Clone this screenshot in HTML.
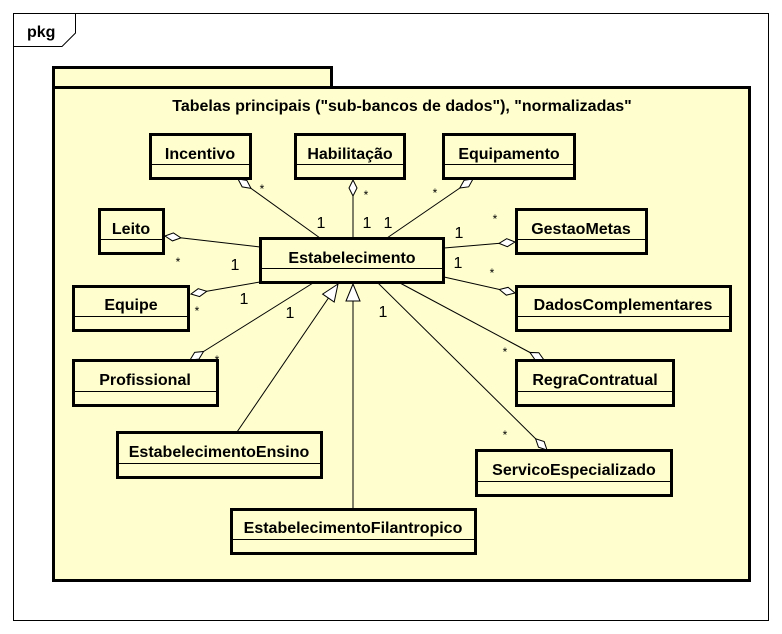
<!DOCTYPE html>
<html><head><meta charset="utf-8"><style>
html,body{margin:0;padding:0;background:#fff;}
svg{display:block;}
text{font-family:"Liberation Sans",sans-serif;}
.c{font-weight:bold;font-size:16px;text-anchor:middle;}
.m{font-size:16px;text-anchor:middle;}
.s{font-size:12px;text-anchor:middle;}
</style></head><body>
<svg width="782" height="634" viewBox="0 0 782 634" xmlns="http://www.w3.org/2000/svg">
<defs>
<marker id="dia" markerUnits="userSpaceOnUse" markerWidth="20" markerHeight="12" refX="0" refY="6" orient="auto" overflow="visible">
<path d="M0,6 L8,2 L16,6 L8,10 Z" fill="#fff" stroke="#000" stroke-width="1"/>
</marker>
<marker id="tri" markerUnits="userSpaceOnUse" markerWidth="20" markerHeight="16" refX="18" refY="8" orient="auto" overflow="visible">
<path d="M18,8 L1,1 L1,15 Z" fill="#fff" stroke="#000" stroke-width="1"/>
</marker>
</defs>
<rect x="13.5" y="13.5" width="755" height="607" fill="#fff" stroke="#000" stroke-width="1"/>
<path d="M13.5,46.5 L62,46.5 L75.5,33 L75.5,13.5" fill="none" stroke="#000"/>
<text x="27" y="37" style="font-weight:bold;font-size:16px">pkg</text>

<rect x="53.5" y="67.5" width="278" height="20" fill="#FEFECE" stroke="#000" stroke-width="3"/>
<rect x="53.5" y="87.5" width="696" height="493" fill="#FEFECE" stroke="#000" stroke-width="3"/>
<text x="402" y="111" class="c">Tabelas principais ("sub-bancos de dados"), "normalizadas"</text>

<g stroke="#000" stroke-width="1" fill="none">
<line x1="238" y1="179" x2="320" y2="238" marker-start="url(#dia)"/>
<line x1="353" y1="180" x2="353" y2="238" marker-start="url(#dia)"/>
<line x1="473" y1="179" x2="387" y2="238" marker-start="url(#dia)"/>
<line x1="165" y1="236" x2="260" y2="247" marker-start="url(#dia)"/>
<line x1="191" y1="294" x2="260" y2="282" marker-start="url(#dia)"/>
<line x1="515" y1="242" x2="444" y2="248" marker-start="url(#dia)"/>
<line x1="515" y1="293" x2="444" y2="277" marker-start="url(#dia)"/>
<line x1="190" y1="360" x2="313" y2="283" marker-start="url(#dia)"/>
<line x1="544" y1="360" x2="400" y2="283" marker-start="url(#dia)"/>
<line x1="547" y1="450" x2="378" y2="283" marker-start="url(#dia)"/>
<line x1="237" y1="432" x2="338" y2="284" marker-end="url(#tri)"/>
<line x1="353" y1="509" x2="353" y2="284" marker-end="url(#tri)"/>
</g>

<g fill="#FEFECE" stroke="#000" stroke-width="3">
<rect x="150.5" y="134.5" width="100" height="44"/>
<rect x="295.5" y="134.5" width="109" height="44"/>
<rect x="443.5" y="134.5" width="131" height="44"/>
<rect x="99.5" y="209.5" width="64" height="44"/>
<rect x="260.5" y="238.5" width="183" height="44"/>
<rect x="516.5" y="209.5" width="130" height="44"/>
<rect x="73.5" y="286.5" width="115" height="44"/>
<rect x="516.5" y="286.5" width="214" height="44"/>
<rect x="73.5" y="360.5" width="144" height="45"/>
<rect x="516.5" y="360.5" width="157" height="45"/>
<rect x="117.5" y="432.5" width="204" height="45"/>
<rect x="476.5" y="450.5" width="195" height="45"/>
<rect x="231.5" y="509.5" width="244" height="44"/>
</g>
<g stroke="#000" stroke-width="1">
<line x1="151" y1="164.5" x2="250" y2="164.5"/>
<line x1="296" y1="164.5" x2="404" y2="164.5"/>
<line x1="444" y1="164.5" x2="574" y2="164.5"/>
<line x1="100" y1="239.5" x2="163" y2="239.5"/>
<line x1="261" y1="268.5" x2="443" y2="268.5"/>
<line x1="517" y1="239.5" x2="646" y2="239.5"/>
<line x1="74" y1="316.5" x2="188" y2="316.5"/>
<line x1="517" y1="316.5" x2="730" y2="316.5"/>
<line x1="74" y1="391.5" x2="217" y2="391.5"/>
<line x1="517" y1="391.5" x2="673" y2="391.5"/>
<line x1="118" y1="463.5" x2="321" y2="463.5"/>
<line x1="477" y1="481.5" x2="671" y2="481.5"/>
<line x1="232" y1="539.5" x2="475" y2="539.5"/>
</g>
<text x="200" y="159" class="c">Incentivo</text>
<text x="350" y="159" class="c">Habilitação</text>
<text x="509" y="159" class="c">Equipamento</text>
<text x="131" y="234" class="c">Leito</text>
<text x="352" y="263" class="c">Estabelecimento</text>
<text x="581" y="234" class="c">GestaoMetas</text>
<text x="131" y="310" class="c">Equipe</text>
<text x="623" y="310" class="c">DadosComplementares</text>
<text x="145" y="385" class="c">Profissional</text>
<text x="595" y="385" class="c">RegraContratual</text>
<text x="219" y="457" class="c">EstabelecimentoEnsino</text>
<text x="574" y="475" class="c">ServicoEspecializado</text>
<text x="353" y="533" class="c">EstabelecimentoFilantropico</text>

<g>
<text x="262" y="193" class="s">*</text>
<text x="366" y="199" class="s">*</text>
<text x="435" y="197" class="s">*</text>
<text x="178" y="266" class="s">*</text>
<text x="197" y="315" class="s">*</text>
<text x="495" y="223" class="s">*</text>
<text x="492" y="277" class="s">*</text>
<text x="217" y="364" class="s">*</text>
<text x="505" y="356" class="s">*</text>
<text x="505" y="439" class="s">*</text>
</g>
<g>
<text x="321" y="228" class="m">1</text>
<text x="367" y="228" class="m">1</text>
<text x="388" y="228" class="m">1</text>
<text x="235" y="270" class="m">1</text>
<text x="244" y="304" class="m">1</text>
<text x="459" y="238" class="m">1</text>
<text x="458" y="268" class="m">1</text>
<text x="290" y="318" class="m">1</text>
<text x="383" y="317" class="m">1</text>
</g>
</svg>
</body></html>
